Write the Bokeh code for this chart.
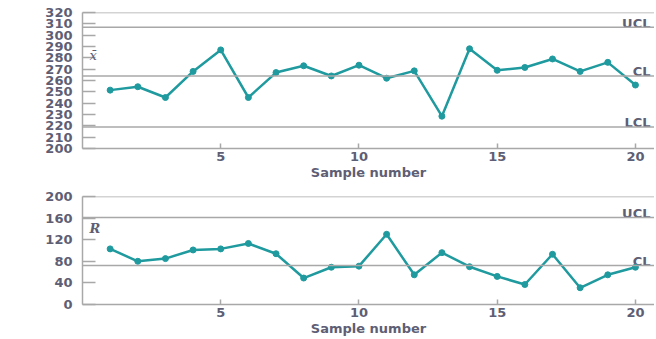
from bokeh.plotting import figure
from bokeh.layouts import column
from bokeh.models import Span, Label, FixedTicker
from bokeh.core.properties import value
from bokeh.embed import file_html
from bokeh.resources import INLINE

# ---- data ----
samples = list(range(1, 21))
xbar_values = [251.5, 254.5, 245, 268, 287, 245, 267, 273, 264, 273.5,
               262, 268.5, 228.5, 288, 269, 271.5, 279, 268, 276, 256]
r_values = [103, 80, 85, 101, 103, 113, 94, 49, 69, 71,
            130, 55, 96, 70, 52, 37, 93, 31, 55, 69]
xbar_limit_names = ["UCL", "CL", "LCL"]
xbar_limits = [307, 264, 219]
r_limit_names = ["UCL", "CL"]
r_limits = [161, 72]
xbar_ticks = list(range(200, 321, 10))
r_ticks = [0, 40, 80, 120, 160, 200]
x_ticks = [5, 10, 15, 20]
x_label = "Sample number"

LINE = "#1f9a9e"
TXT = "#5e5e74"
GRID = "#a8a8a8"
FONT = "DejaVu Sans"
X_END = 20.69


def make_fig(height, top, bottom, y0, y1, yticks, yvals, names, limits,
             ylab, ylab_y, ylab_style):
    p = figure(width=654, height=height, x_range=(0, X_END), y_range=(y0, y1),
               output_backend="svg", toolbar_location=None,
               min_border_left=82, min_border_right=0,
               min_border_top=top, min_border_bottom=bottom)
    p.outline_line_color = None
    p.xgrid.grid_line_color = None
    p.ygrid.grid_line_color = None
    p.background_fill_color = "white"

    for ax in (p.xaxis[0], p.yaxis[0]):
        ax.axis_line_color = GRID
        ax.axis_line_width = 1.5
        ax.major_tick_line_color = GRID
        ax.major_tick_line_width = 1.5
        ax.minor_tick_line_color = None
        ax.major_tick_out = 0
        ax.major_label_text_color = TXT
        ax.major_label_text_font = FONT
        ax.major_label_text_font_size = "13px"
        ax.major_label_text_font_style = "bold"
    p.yaxis.ticker = FixedTicker(ticks=yticks)
    p.yaxis.major_tick_in = 13
    p.yaxis.major_label_standoff = 10
    p.xaxis.ticker = FixedTicker(ticks=x_ticks)
    p.xaxis.major_tick_in = 5
    p.xaxis.major_label_standoff = 3
    p.xaxis.axis_label = x_label
    p.xaxis.axis_label_standoff = 1
    p.xaxis.axis_label_text_font = FONT
    p.xaxis.axis_label_text_font_size = "13px"
    p.xaxis.axis_label_text_font_style = "bold"
    p.xaxis.axis_label_text_color = TXT

    # top border
    p.add_layout(Span(location=y1, dimension="width", line_color=GRID, line_width=1.5))
    for lim in limits:
        p.add_layout(Span(location=lim, dimension="width", line_color=GRID, line_width=1.5))
    p.text(x=[X_END] * len(limits), y=limits, text=names,
           text_align="right", text_baseline="alphabetic", x_offset=-4, y_offset=-4,
           text_font=value(FONT), text_font_size="13px", text_font_style="bold",
           text_color=TXT)

    p.line(samples, yvals, line_color=LINE, line_width=2.5)
    p.scatter(samples, yvals, size=6, fill_color=LINE, line_color=LINE)

    p.add_layout(Label(x=7, y=ylab_y, x_units="screen", y_units="data", text=ylab,
                       text_font="DejaVu Serif", text_font_size="13px",
                       text_font_style=ylab_style, text_color=TXT,
                       text_baseline="middle"))
    return p


p1 = make_fig(184, 12, 36, 200, 320, xbar_ticks, xbar_values,
              xbar_limit_names, xbar_limits, "x\u0304", 282, "italic")
p2 = make_fig(154, 12, 30, 0, 200, r_ticks, r_values,
              r_limit_names, r_limits, "R", 140, "bold italic")

layout = column(p1, p2, spacing=0)
open("out.html", "w").write(file_html(layout, INLINE))
